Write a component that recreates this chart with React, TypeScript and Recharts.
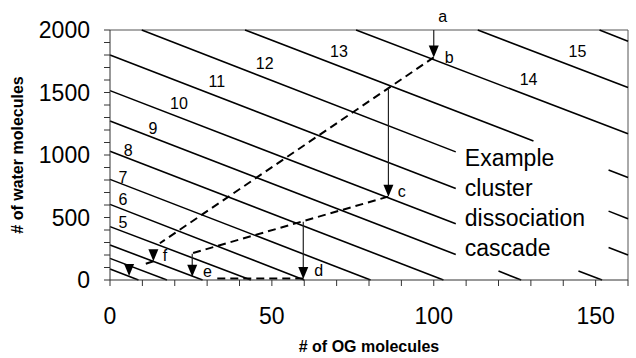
import React from 'react';
import { ComposedChart, XAxis, YAxis, ReferenceLine, ReferenceDot, Scatter } from 'recharts';

const FONT = "'Liberation Sans', Arial, Helvetica, sans-serif";

// axis ticks
const xTicks = [0, 10, 20, 30, 40, 50, 60, 70, 80, 90, 100, 110, 120, 130, 140, 150, 160];
const xTickLabels = [0, 50, 100, 150];
const yTicks = [0, 100, 200, 300, 400, 500, 600, 700, 800, 900, 1000, 1100, 1200, 1300, 1400, 1500, 1600, 1700, 1800, 1900, 2000];
const yTickLabels = [0, 500, 1000, 1500, 2000];

// iso-lines (visible segments)
const isoX1 = [0, 0, 0, 0, 0, 0, 0, 0, 120, 0, 144.7, 0, 154, 9.8, 154, 41.7, 154, 76, 113.6, 151.2];
const isoY1 = [88, 173, 280, 427, 605, 805, 1030, 1272, 72, 1515, 72, 1800, 260, 2000, 551, 2000, 880, 2000, 2000, 2000];
const isoX2 = [8.8, 17.6, 28.6, 43.5, 60, 80.5, 103, 106.8, 127, 106.8, 152, 106.8, 160, 106.8, 160, 130.8, 160, 160, 160, 160];
const isoY2 = [0, 0, 0, 0, 0, 0, 0, 204, 0, 450, 0, 732, 200, 1025, 490, 1112, 820, 1170, 1540, 1910];

// iso-line labels
const isoLabels = ['5', '6', '7', '8', '9', '10', '11', '12', '13', '14', '15'];
const isoLabelX = [4.0, 4.0, 4.0, 5.6, 13.3, 21.3, 33, 47.8, 70.7, 129.3, 144.4];
const isoLabelY = [464, 648, 820, 1040, 1216, 1416, 1588, 1736, 1832, 1608, 1832];

// dashed cascade path segments
const dashX1 = [100, 13.4, 85.9, 59.7];
const dashY1 = [1781, 150, 667, 13];
const dashX2 = [15.4, 10.5, 25.2, 31.8];
const dashY2 = [294, 125, 213, 13];

// vertical arrows
const arrowX = [100, 86, 59.7, 25.4, 13.4, 5.9];
const arrowTop = [2000, 1535, 466, 210, 240, 110];
const arrowTip = [1781, 667, 8, 27, 150, 32];

// step letters
const stepLetters = ['a', 'b', 'c', 'd', 'e', 'f'];
const stepX = [102.8, 104.8, 90.1, 64.5, 30.1, 17];
const stepY = [2112, 1784, 712, 80, 70, 200];

// annotation text block
const noteLines = ['Example', 'cluster', 'dissociation', 'cascade'];
const noteX = 109.6;
const noteY = [912, 672, 432, 192];

const arrowHeads = arrowX.map((x, i) => ({ x, y: arrowTip[i] }));

const Triangle = (props: any) => {
  const { cx, cy } = props;
  if (cx == null || cy == null) return null;
  return <polygon points={`${cx - 5},${cy - 12} ${cx + 5},${cy - 12} ${cx},${cy}`} fill="#000" />;
};

const makeText = (label: string, size: number, anchor: string, baseline: string) => (p: any) => (
  <text
    x={p.cx}
    y={p.cy}
    textAnchor={anchor}
    dominantBaseline={baseline}
    fontFamily={FONT}
    fontSize={size}
    fill="#000"
  >
    {label}
  </text>
);

export default function App() {
  return (
    <div style={{ position: 'absolute', left: 0, top: 0, background: '#fff' }}>
      <ComposedChart width={636} height={358} margin={{ top: 30, right: 8, bottom: 0, left: 0 }}>
        <XAxis
          type="number"
          dataKey="x"
          domain={[0, 160]}
          allowDataOverflow
          ticks={xTicks}
          interval={0}
          height={78}
          tickSize={6}
          tickMargin={22}
          tickFormatter={(v: number) => (xTickLabels.includes(v) ? String(v) : '')}
          tick={{ fontSize: 23, fill: '#000', fontFamily: FONT }}
          axisLine={{ stroke: '#333' }}
          tickLine={{ stroke: '#333' }}
          label={{
            value: '# of OG molecules',
            position: 'insideBottom',
            offset: 6,
            style: { fontSize: 16, fontWeight: 'bold', fill: '#000', fontFamily: FONT },
          }}
        />
        <YAxis
          type="number"
          dataKey="y"
          domain={[0, 2000]}
          allowDataOverflow
          ticks={yTicks}
          interval={0}
          width={110}
          tickSize={6}
          tickMargin={14}
          tickFormatter={(v: number) => (yTickLabels.includes(v) ? String(v) : '')}
          tick={{ fontSize: 23, fill: '#000', fontFamily: FONT }}
          axisLine={{ stroke: '#333' }}
          tickLine={{ stroke: '#333' }}
          label={{
            value: '# of water molecules',
            angle: -90,
            position: 'insideLeft',
            offset: 17,
            style: { fontSize: 16, fontWeight: 'bold', fill: '#000', fontFamily: FONT, textAnchor: 'middle' },
          }}
        />
        {/* plot frame */}
        <ReferenceLine y={2000} stroke="#555" strokeWidth={1} />
        <ReferenceLine x={160} stroke="#555" strokeWidth={1} />
        {isoX1.map((x1, i) => (
          <ReferenceLine
            key={'iso' + i}
            segment={[{ x: x1, y: isoY1[i] }, { x: isoX2[i], y: isoY2[i] }]}
            stroke="#000"
            strokeWidth={1.6}
          />
        ))}
        {dashX1.map((x1, i) => (
          <ReferenceLine
            key={'dash' + i}
            segment={[{ x: x1, y: dashY1[i] }, { x: dashX2[i], y: dashY2[i] }]}
            stroke="#000"
            strokeWidth={2}
            strokeDasharray="8 5"
          />
        ))}
        {arrowX.map((x, i) => (
          <ReferenceLine
            key={'arrow' + i}
            segment={[{ x, y: arrowTop[i] }, { x, y: arrowTip[i] + 60 }]}
            stroke="#222"
            strokeWidth={1.2}
          />
        ))}
        <Scatter data={arrowHeads} shape={Triangle} isAnimationActive={false} />
        {isoLabels.map((lab, i) => (
          <ReferenceDot
            key={'il' + i}
            x={isoLabelX[i]}
            y={isoLabelY[i]}
            r={0}
            shape={makeText(lab, 16, 'middle', 'central')}
          />
        ))}
        {stepLetters.map((lab, i) => (
          <ReferenceDot
            key={'sl' + i}
            x={stepX[i]}
            y={stepY[i]}
            r={0}
            ifOverflow="visible"
            shape={makeText(lab, 16, 'middle', 'central')}
          />
        ))}
        {noteLines.map((lab, i) => (
          <ReferenceDot
            key={'nl' + i}
            x={noteX}
            y={noteY[i]}
            r={0}
            shape={makeText(lab, 23, 'start', 'alphabetic')}
          />
        ))}
      </ComposedChart>
    </div>
  );
}
